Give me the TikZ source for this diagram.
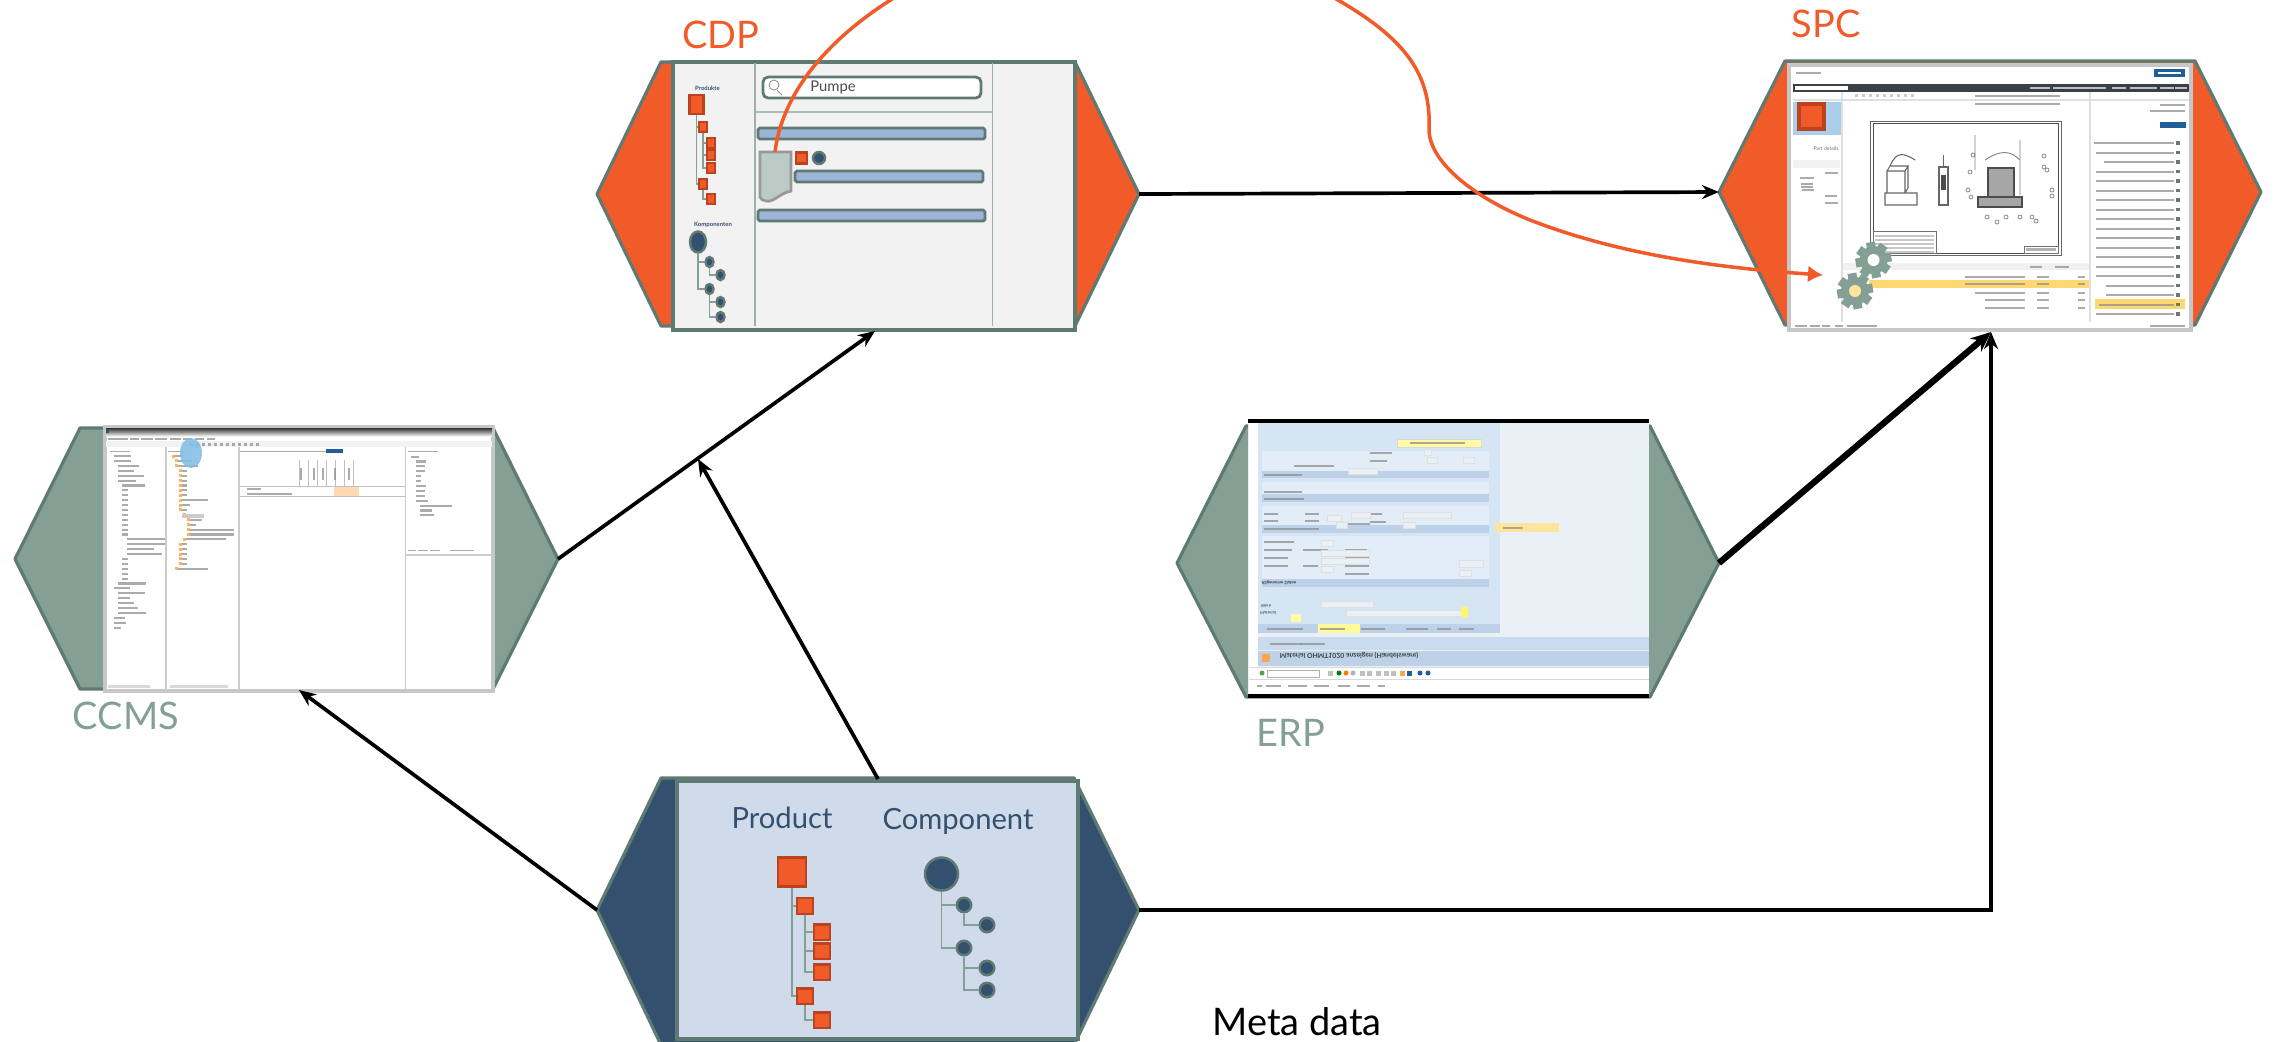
\documentclass[tikz,border=0pt]{standalone}
\usepackage{color}
\usepackage{fontspec}
\usepackage{graphicx}
\setmainfont{Lato}
\usetikzlibrary{arrows.meta,shapes.geometric}
\definecolor{cdporange}{HTML}{F15A29}
\definecolor{darkorange}{HTML}{BC4320}
\definecolor{hexgreen}{HTML}{84A095}
\definecolor{hexblue}{HTML}{34506F}
\definecolor{hexedge}{HTML}{5F7A72}
\definecolor{barblue}{HTML}{9DB4D6}
\definecolor{metafill}{HTML}{CFDBEA}
\definecolor{erpfill}{HTML}{E9F0F6}
\definecolor{erppanel}{HTML}{D6E5F3}
\definecolor{erpbar}{HTML}{BDD2E8}
\definecolor{rowyellow}{HTML}{FFD874}
\definecolor{shot}{HTML}{8F8F8F}
\definecolor{navdark}{HTML}{3C3F44}
\definecolor{thumbblue}{HTML}{A9CFEA}
\definecolor{logoblue}{HTML}{1F5F99}
\definecolor{spotblue}{HTML}{7FBDE5}
\newcommand{\flip}[1]{\scalebox{1}[-1]{#1}}
\tikzset{
	hexshape/.style={draw=hexedge,line width=.9pt,line join=round},
	screen/.style={draw,inner sep=0pt,line width=1pt},
	conn/.style={draw=black,line width=1.05pt,-{Stealth[length=.17cm,width=.14cm]}},
	prodbox/.style={draw=darkorange,fill=cdporange,inner sep=0pt,line width=.7pt},
	compdot/.style={draw=hexedge,fill=hexblue,circle,inner sep=0pt,line width=.7pt},
	branch/.style={draw=hexgreen,line width=.4pt},
	databar/.style={draw=hexedge,fill=barblue,rounded corners=.5pt,line width=.8pt},
	tinyrow/.style={fill=shot,opacity=.75},
	bigfont/.style={font=\fontsize{10.8}{12}\selectfont},
	smallfont/.style={font=\fontsize{8.3}{10}\selectfont,text=hexblue},
	tinyfont/.style={font=\fontsize{1.7}{2}\selectfont\bfseries,text=hexblue},
	erpfont/.style={font=\fontsize{1.25}{2}\selectfont,text=black!75,inner sep=0pt},
	gearcol/.style={fill=hexgreen},
}
\begin{document}
\begin{tikzpicture}[x=.01cm,y=-.01cm] % one unit is one pixel of the reference
	\useasboundingbox (0,0) rectangle (2275,1041);

	% hexagons behind the screens
	\draw[hexshape,fill=cdporange] (597,194) coordinate (cdpW) -- (661,62) -- (1075,62) -- (1139,194) coordinate (cdpE) -- (1075,326) -- (661,326) -- cycle;
	\draw[hexshape,fill=cdporange] (1719,192) coordinate (spcW) -- (1785,61) -- (2195,61) -- (2261,192) -- (2195,325) -- (1785,325) -- cycle;
	\draw[hexshape,fill=hexgreen] (15,559) -- (80,428) -- (493,428) -- (558,559) coordinate (ccmsE) -- (493,689) -- (80,689) -- cycle;
	\draw[hexshape,fill=hexgreen] (1177,563) -- (1246,426) -- (1650,426) -- (1719,563) coordinate (erpE) -- (1650,697) -- (1246,697) -- cycle;
	\draw[hexshape,fill=hexblue] (597,910) coordinate (metaW) -- (661,778) -- (1074,778) -- (1139,910) coordinate (metaE) -- (1074,1045) -- (661,1045) -- cycle;

	% the screens
	\node[screen,draw=hexedge,fill=black!5,minimum width=4.02cm,minimum height=2.68cm] (cdp) at (874,196) {};
	\node[screen,draw=hexedge,fill=metafill,minimum width=4.01cm,minimum height=2.58cm] (meta) at (877.5,910) {};
	\node[screen,draw=black!22,fill=white,minimum width=3.88cm,minimum height=2.64cm] (ccms) at (299,559) {};
	\node[screen,draw=none,fill=erpfill,minimum width=4.01cm,minimum height=2.75cm] (erp) at (1448.5,558.5) {};
	\node[screen,draw=black!22,fill=white,minimum width=4.02cm,minimum height=2.65cm] (spc) at (1990,197.5) {};

	% labels
	\node[bigfont,text=cdporange] (cdplabel) at (721,35) {CDP};
	\node[bigfont,text=cdporange] (spclabel) at (1826,24) {SPC};
	\node[bigfont,text=hexgreen] (ccmslabel) at (126,716) {CCMS};
	\node[bigfont,text=hexgreen] (erplabel) at (1291,733) {ERP};
	\node[bigfont,text=black] (metalabel) at (1297,1022) {Meta data};
	\node[smallfont] (productlabel) at (782,818) {Product};
	\node[smallfont] (componentlabel) at (958,821) {Component};

	% metadata trees
	\node[prodbox,minimum width=.28cm,minimum height=.29cm] (m0) at (792,872) {};
	\foreach \n/\x/\y in {1/805/906,2/822/932,3/822/951,4/822/972,5/805/996,6/822/1020}
		\node[prodbox,minimum size=.155cm] (m\n) at (\x,\y) {};
	\foreach \a/\b in {0/1,0/5,1/2,1/3,1/4,5/6}
		\draw[branch] (m\a.south) |- (m\b.west);
	\node[compdot,minimum size=.33cm] (k0) at (941.5,874) {};
	\foreach \n/\x/\y in {1/964/905,2/987/925,3/964/948,4/987/968,5/987/990}
		\node[compdot,minimum size=.145cm] (k\n) at (\x,\y) {};
	\foreach \a/\b in {0/1,0/3,1/2,3/4,3/5}
		\draw[branch] (k\a.south) |- (k\b.west);

	% CDP screen
	\draw[hexedge!60,line width=.5pt] (755,63) -- (755,326);
	\draw[hexedge!60,line width=.5pt] (992.5,63) -- (992.5,326);
	\draw[hexgreen!70,line width=.5pt] (755,112) -- (992.5,112);
	\node[draw=hexedge,fill=white,rounded corners=1.5pt,line width=.8pt,minimum width=2.18cm,minimum height=.21cm,inner sep=0pt] (searchbox) at (872,87.5) {};
	\draw[black!50,line width=.2pt] (774,85) circle[radius=5] (777,90) -- (782,95);
	\node[font=\fontsize{4.2}{5}\selectfont,text=black!70] (pumpe) at (833,87.5) {Pumpe};
	\filldraw[databar] (758,128) rectangle (985,139);
	\filldraw[databar] (795,171) rectangle (983,182);
	\filldraw[databar] (758,210) rectangle (985,221);
	\filldraw[draw=black!40,fill=hexgreen!55,line width=.8pt] (760,152) coordinate (docL) -- (791,152) -- (791,191) .. controls (780,193) and (773,203) .. (766,201) .. controls (763,201) and (761,199) .. (760,197) -- cycle;
	\node[prodbox,minimum size=.11cm] (cdpsq) at (801.5,158) {};
	\node[compdot,minimum size=.12cm] (cdpdot) at (819,158) {};
	\node[tinyfont] (produkte) at (707.5,88) {Produkte};
	\node[tinyfont] (komponenten) at (713,225) {Komponenten};
	\node[prodbox,minimum width=.14cm,minimum height=.19cm] (s0) at (696.5,104.5) {};
	\foreach \n/\x/\y in {1/703/127,2/711/143,3/711/155,4/711/168,5/703/184,6/711/199}
		\node[prodbox,minimum width=.08cm,minimum height=.105cm] (s\n) at (\x,\y) {};
	\foreach \a/\b in {0/1,0/5,1/2,1/3,1/4,5/6}
		\draw[branch] (s\a.south) |- (s\b.west);
	\node[compdot,ellipse,minimum width=.16cm,minimum height=.21cm] (c0) at (698,242) {};
	\foreach \n/\x/\y in {1/709.5/262,2/720.5/275,3/709.5/289,4/720.5/302,5/720.5/317}
		\node[compdot,ellipse,minimum width=.08cm,minimum height=.1cm] (c\n) at (\x,\y) {};
	\foreach \a/\b in {0/1,0/3,1/2,3/4,3/5}
		\draw[branch] (c\a.south) |- (c\b.west);

	% CCMS screen
	\shade[top color=black!80,bottom color=black!5] (106,428) rectangle (492,436);
	\fill[hexblue] (106,429) rectangle (109,433);
	\foreach \x/\w in {108/8,116/12,130/9,141/12,155/12,170/11,183/9,195/9,207/8}
		\fill[tinyrow] (\x,438) rectangle ++(\w,1.7);
	\fill[black!5] (106,441) rectangle (492,447);
	\foreach \x in {190,196,...,260}
		\fill[tinyrow] (\x,442.5) rectangle ++(3,3);
	\draw[black!20,line width=.4pt] (166,447) -- (166,690) (239,447) -- (239,690) (405.5,447) -- (405.5,690) (405.5,555) -- (492,555);
	\foreach \x/\w in {110/20,168/16,240/96,408/30}
		\fill[tinyrow] (\x,450.5) rectangle ++(\w,1.5);
	\fill[logoblue] (326,449) rectangle (343,453);
	\foreach \i/\x/\w in {0/114/17,1/114/17,2/118/21,3/118/16,4/118/26,5/118/18,6/122/23,7/122/6,8/122/6,9/122/6,10/122/6,11/122/6,12/122/6,13/122/6,14/122/6,15/122/6,16/122/6,17/127/38,18/127/38,19/127/27,20/127/35,21/122/6,22/122/6,23/122/6,24/122/6,25/122/6,26/118/28,27/114/16,28/118/27,29/118/12,30/118/16,31/118/20,32/118/28,33/114/11,34/114/12,35/114/7}
		\fill[tinyrow] (\x,{455+4.9*\i}) rectangle ++(\w,2.1);
	\foreach \i/\x/\w in {0/175/10,1/178/14,2/178/20,3/182/5,4/182/5,5/182/5,6/182/5,7/182/5,8/182/5,9/182/26,10/182/8,11/182/5,12/186/12,13/190/12,14/190/6,15/190/44,16/190/44,17/186/40,18/182/5,19/182/5,20/182/5,21/182/5,22/182/5,23/178/30}
		{\fill[orange!60] (\x-3,{454.5+4.9*\i}) rectangle ++(2.5,3);
		\fill[tinyrow] (\x,{455+4.9*\i}) rectangle ++(\w,2.1);}
	\fill[black!20] (182,514) rectangle (204,518);
	\foreach \i/\x/\w in {0/411/8,1/416/10,2/416/9,3/416/9,4/416/5,5/416/5,6/416/10,7/416/9,8/416/9,9/416/12,10/420/32,11/420/12,12/420/14}
		\fill[tinyrow] (\x,{455.5+4.9*\i}) rectangle ++(\w,2.1);
	\foreach \x/\w in {408/8,418/10,430/10,450/24}
		\fill[tinyrow] (\x,549.5) rectangle ++(\w,1.5);
	\foreach \x in {299,308,...,355}
		\draw[black!25,line width=.2pt] (\x,460) -- (\x,486);
	\draw[black!25,line width=.2pt] (240,486) -- (405,486) (240,496) -- (405,496);
	\foreach \x in {300,313,322,334,348}
		\fill[tinyrow] (\x,468) rectangle ++(1.5,12);
	\fill[orange!30] (334,487) rectangle (359,496);
	\fill[tinyrow] (247,488) rectangle ++(14,2);
	\fill[tinyrow] (247,492.5) rectangle ++(45,2);
	\fill[black!15] (108,685) rectangle (150,688);
	\fill[black!15] (170,685) rectangle (228,688);
	\fill[spotblue,opacity=.85] (191,453) ellipse[x radius=11,y radius=15];

	% ERP screen
	\fill[white] (1249,667) rectangle (1649,695);
	\fill[white] (1249,422) rectangle (1258,667);
	\fill[erppanel] (1258,422) rectangle (1500,624);
	\foreach \t/\b in {451/471,482/494,506/525,536/579}
		\fill[erppanel!70!white] (1262,\t) rectangle (1489,\b);
	\foreach \t/\b in {471/478,494/502,525/533,579/587}
		\fill[erpbar] (1262,\t) rectangle (1489,\b);
	\node[erpfont,font=\fontsize{1.25}{2}\selectfont\bfseries] (erpdata) at (1279,583) {\flip{Allgemeine Daten}};
	\node[erpfont] (erpmat) at (1268,613) {\flip{Material}};
	\node[erpfont] (erpwerk) at (1266,606) {\flip{Werk}};
	\fill[yellow!35,draw=black!15,line width=.2pt] (1397,439) rectangle (1481,447);
	\fill[tinyrow] (1410,442) rectangle ++(55,2);
	\fill[rowyellow!70] (1495,523) rectangle (1559,532);
	\fill[tinyrow] (1503,527) rectangle ++(20,2);
	\foreach \x/\y/\w in {1294/465/40,1264/474/38,1264/491/38,1264/498/40,1264/513/14,1264/520/14,1305/513/14,1305/520/14,1264/528/55,1264/541/30,1264/549/28,1264/557/24,1264/565/24,1303/549/25,1303/565/15,1345/549/22,1345/557/24,1345/565/24,1345/573/24,1345/523/25,1370/513/12,1370/521/16,1370/460/17,1370/452/22}
		\fill[tinyrow] (\x,\y) rectangle ++(\w,1.9);
	\foreach \x/\y/\w/\h in {1348/468/29/6,1327/515/14/6,1351/512/19/6,1403/512/48/6,1336/522/11/6,1403/522/12/6,1321/540/12/6,1321/550/48/6,1321/558/48/6,1321/566/12/6,1459/570/12/6,1459/560/24/7,1463/457/11/6,1427/457/10/6,1424/449/7/6,1321/601/52/6,1346/610/115/6}
		\filldraw[draw=black!12,fill=erpfill,line width=.2pt] (\x,\y) rectangle ++(\w,\h);
	\fill[yellow!35] (1291,614) rectangle (1301,622);
	\fill[yellow!60] (1461,607) rectangle (1468,617);
	\fill[erpbar] (1258,624) rectangle (1500,633);
	\fill[yellow!40] (1318,624) rectangle (1360,633);
	\foreach \x/\w in {1267/36,1320/25,1361/24,1406/22,1437/14,1459/15}
		\fill[tinyrow] (\x,628) rectangle ++(\w,2);
	\fill[erpbar!80] (1258,637) rectangle (1649,650);
	\fill[tinyrow] (1270,643) rectangle ++(32,2);
	\fill[tinyrow] (1300,643) rectangle ++(25,2);
	\fill[erpbar] (1258,651) rectangle (1649,666);
	\fill[orange!70] (1262,654) rectangle (1270,662);
	\node[font=\fontsize{1.95}{3}\selectfont\bfseries,text=black!75,inner sep=0pt] (erptitle) at (1349,656) {\flip{Material OHMT1020 anzeigen (Handelsware)}};
	\draw[black!15,line width=.2pt] (1249,667) -- (1649,667) (1249,679) -- (1649,679);
	\draw[black!30,fill=white,line width=.2pt] (1267,670) rectangle (1319,677);
	\fill[green!50!black!70] (1262,673) circle[radius=2.5];
	\foreach \x/\c in {1339/green!50!black,1346/orange,1353/black!30,1420/logoblue,1428/logoblue}
		\fill[\c] (\x,673) circle[radius=2.5];
	\foreach \x in {1330,1362,1369,1378,1386,1393}
		\fill[black!25] (\x-2.5,670.5) rectangle ++(5,5);
	\fill[orange!70] (1417,670.5) rectangle ++(0,0);
	\fill[orange!70] (1400,670.5) rectangle ++(5,5);
	\fill[logoblue] (1407,670.5) rectangle ++(5,5);
	\foreach \x/\w in {1257/5,1266/15,1288/19,1314/15,1338/12,1357/13,1378/7}
		\fill[tinyrow] (\x,685) rectangle ++(\w,2);
	\draw[black,line width=.9pt] (1248,421) -- (1649,421);
	\draw[black,line width=.9pt] (1248,696) -- (1649,696);

	% SPC screen
	\fill[navdark] (1793,84) rectangle (2189,92);
	\fill[white] (1795,85.5) rectangle (1848,90);
	\fill[logoblue] (2154,69) rectangle (2185,77);
	\fill[white] (2158,72) rectangle (2181,74);
	\foreach \x/\w in {2030/20,2053/18,2068/18,2086/20,2112/14,2130/14,2143/14,2160/14,2175/12}
		\fill[black!25] (\x,87) rectangle ++(\w,1.7);
	\fill[tinyrow] (1796,72) rectangle ++(25,1.8);
	\fill[thumbblue] (1793,102) rectangle (1841,135);
	\node[prodbox,line width=1pt,minimum width=.25cm,minimum height=.25cm] (spcsq) at (1811.5,116.5) {};
	\foreach \x in {1843,1850,...,1905}
		\fill[black!20] (\x+12,94) rectangle ++(3,3);
	\fill[tinyrow] (1975,95) rectangle ++(85,1.7);
	\fill[tinyrow] (1975,103) rectangle ++(85,1.7);
	\draw[black!12,line width=.3pt] (1842,92) -- (1842,322) (2090,92) -- (2090,322) (1793,100) -- (2189,100);
	\node[font=\fontsize{1.45}{3}\selectfont,text=black!55,inner sep=0pt] (partdetails) at (1826,149) {Part details};
	\foreach \y/\x/\w in {163/1824/14,172/1825/13,177/1800/14,183/1801/12,186/1801/12,189/1802/12,195/1825/12,202/1825/13}
		\fill[tinyrow] (\x,\y) rectangle ++(\w,1.7);
	\fill[black!5] (1793,160) rectangle (1840,168);
	% the drawing
	\draw[black!60,line width=.25pt] (1870,121) rectangle (2061,255);
	\draw[black!70,line width=.25pt] (1873,123) rectangle (2058,253);
	\draw[black!60,line width=.3pt] (1887,171) rectangle (1905,193) (1887,171) -- (1890,166) -- (1908,166) -- (1905,171) (1908,166) -- (1908,188) -- (1905,193) (1885,193) rectangle (1917,205) (1890,166) .. controls (1895,155) and (1900,150) .. (1915,160);
	\filldraw[black!60,fill=white,line width=.3pt] (1939,167) rectangle (1948,205) (1943.5,155) -- (1943.5,167);
	\fill[black!70] (1941,175) rectangle (1946,190);
	\filldraw[black!70,fill=black!35,line width=.3pt] (1988,168) rectangle (2014,197) (1978,197) rectangle (2022,207);
	\draw[black!50,line width=.25pt] (1985,160) .. controls (2000,150) and (2010,150) .. (2020,160) (1975,135) -- (1975,170) (2020,140) -- (2020,195);
	\foreach \x/\y in {1973/155,1970/172,1968/190,1971/197,2044/156,2044/167,2047/170,2052/190,2052/196,1987/217,2006/217,2020/217,2032/217,2036/221,1997/222}
		\draw[black!50,line width=.2pt] (\x,\y) circle[radius=2];
	\draw[black!55,line width=.25pt] (1873,231) rectangle (1936,253) (2024,246) rectangle (2058,253);
	\foreach \y in {235,239,...,251}
		\fill[black!22] (1875,\y) rectangle (1934,\y+1.5);
	\fill[black!30] (2026,248) rectangle (2056,251);
	% table and list
	\fill[black!6] (1843,263) rectangle (2089,270);
	\fill[rowyellow] (1869,280) rectangle (2089,288);
	\foreach \y/\x/\w in {276/1965/60,283/1965/60,292/1975/50,299/1985/40,307/1985/40}
		{\fill[tinyrow] (\x,\y) rectangle ++(\w,1.8);
		\fill[tinyrow] (2037,\y) rectangle ++(12,1.8);
		\fill[tinyrow] (2078,\y) rectangle ++(7,1.8);}
	\fill[tinyrow] (2030,266) rectangle ++(12,1.8);
	\fill[tinyrow] (2055,266) rectangle ++(14,1.8);
	\fill[rowyellow] (2095,299) rectangle (2185,309);
	\foreach \i/\w in {0/80,1/78,2/70,3/78,4/78,5/78,6/78,7/78,8/78,9/78,10/78,11/78,12/78,13/78,14/78,15/68,16/68,17/75,18/78}
		{\fill[tinyrow] ({2174-\w},{142+9.5*\i}) rectangle ++(\w,2);
		\fill[black!55] (2176,{141+9.5*\i}) rectangle ++(3.5,3.5);}
	\fill[logoblue] (2160,122) rectangle (2186,128);
	\fill[tinyrow] (2160,104) rectangle ++(25,1.8);
	\fill[tinyrow] (2150,110) rectangle ++(35,1.7);
	\foreach \x/\w in {1795/12,1810/10,1822/8,1835/8,1847/30,2150/35}
		\fill[tinyrow] (\x,325) rectangle ++(\w,1.7);
	% gears
	\foreach \gx/\gy/\hole in {1873.5/260/white,1855/291/rowyellow!70}
		{\foreach \a in {0,45,...,135}
			\fill[gearcol,shift={(\gx,\gy)},rotate=\a+10] (-4.5,-18) rectangle (4.5,18);
		\fill[gearcol] (\gx,\gy) circle[radius=14];
		\fill[\hole] (\gx,\gy) circle[radius=6];}

	% connectors
	\coordinate (metaN) at (878,779);
	\coordinate (ccmsS) at (299,690);
	\coordinate (cdpS) at (875,331);
	\coordinate (spcS) at (1991,332);
	\coordinate (onArrow) at (698,459);
	\draw[conn] (ccmsE) -- (cdpS);
	\draw[conn] (metaN) -- (onArrow);
	\draw[conn] (metaW) -- (ccmsS);
	\draw[conn] (cdpE) -- (spcW);
	\draw[conn,line width=1.8pt,-{Stealth[length=.2cm,width=.17cm]}] (erpE) -- (spcS);
	\draw[conn] (metaE) -| (spcS);

	% orange curve leaves the picture at the top and comes back
	\coordinate (docTop) at (775,152);
	\coordinate (spcGear) at (1823,275);
	\begin{scope}
		\clip (0,0) rectangle (2275,1041);
		\draw[cdporange,line width=1pt,-{Latex[length=.15cm,width=.17cm]}] (docTop) .. controls (782,95) and (825,40) .. (897,-4) .. controls (1000,-70) and (1230,-70) .. (1331,-4) .. controls (1400,35) and (1432,70) .. (1429,130) .. controls (1430,165) and (1480,200) .. (1530,220) .. controls (1620,255) and (1720,268) .. (spcGear);
	\end{scope}
\end{tikzpicture}
\end{document}
